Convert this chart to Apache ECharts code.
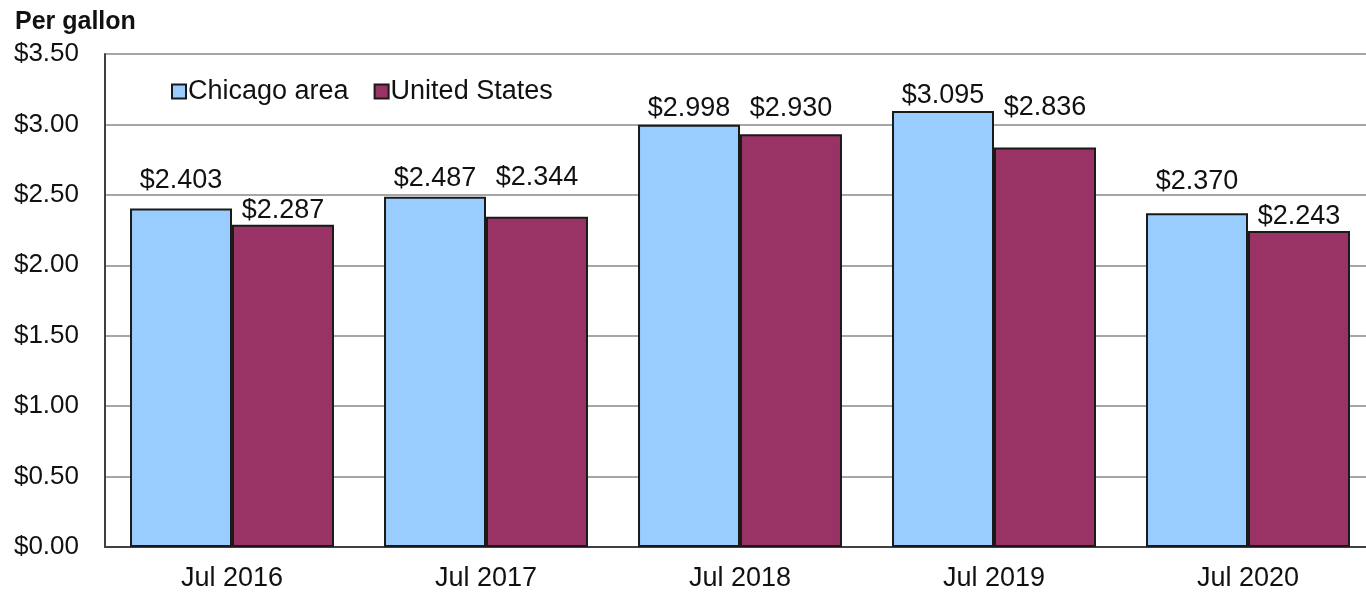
<!DOCTYPE html>
<html>
<head>
<meta charset="utf-8">
<title>Gasoline prices</title>
<script src="https://cdn.jsdelivr.net/npm/echarts@6/dist/echarts.min.js"></script>
<style>
  html, body { margin: 0; padding: 0; background: #fff; }
  #gasBar { width: 1366px; height: 592px; }
</style>
</head>
<body>
<div id="gasBar"></div>
<script>
  // data
  var categories = ['Jul 2016', 'Jul 2017', 'Jul 2018', 'Jul 2019', 'Jul 2020'];
  var seriesNames = ['Chicago area', 'United States'];
  var chicago = [2.403, 2.487, 2.998, 3.095, 2.370];
  var unitedStates = [2.287, 2.344, 2.930, 2.836, 2.243];
  var yTicks = [0, 0.5, 1, 1.5, 2, 2.5, 3, 3.5];

  var font = 'Arial, "Liberation Sans", sans-serif';

  // the original has hand placed value labels, so each one gets its own gap above the bar
  var chicagoLabelGap = [14, 5, 3, 2, 18];
  var usLabelGap = [1, 26, 12, 26, 1];

  function money(v) {
    return '$' + v.toFixed(3);
  }

  function withLabels(values, gaps) {
    return values.map(function (v, i) {
      return { value: v, label: { distance: gaps[i] } };
    });
  }

  var chart = echarts.init(document.getElementById('gasBar'));
  chart.setOption({
    animation: false,
    textStyle: { fontFamily: font },
    graphic: [
      {
        type: 'text',
        left: 15,
        top: 10,
        style: {
          text: 'Per gallon',
          font: 'bold 25px ' + font,
          fill: '#111'
        }
      }
    ],
    legend: {
      left: 166,
      top: 73,
      icon: 'rect',
      itemWidth: 14,
      itemHeight: 14,
      itemGap: 25,
      textStyle: {
        color: '#111',
        fontSize: 27,
        padding: [0, 0, 0, -3]
      },
      data: seriesNames
    },
    grid: {
      left: 105,
      top: 54,
      width: 1270,
      bottom: 45,
      containLabel: false,
      outerBoundsMode: 'none'
    },
    xAxis: {
      type: 'category',
      data: categories,
      axisTick: { show: false },
      axisLine: { lineStyle: { color: '#404040', width: 2 } },
      axisLabel: {
        color: '#111',
        fontSize: 27,
        margin: 18
      }
    },
    yAxis: {
      type: 'value',
      min: yTicks[0],
      max: yTicks[yTicks.length - 1],
      interval: 0.5,
      axisLine: { show: true, lineStyle: { color: '#404040', width: 2 } },
      axisTick: { show: false },
      splitLine: { lineStyle: { color: '#a6a6a6', width: 2 } },
      axisLabel: {
        color: '#111',
        fontSize: 26,
        margin: 26,
        formatter: function (v) { return '$' + v.toFixed(2); }
      }
    },
    series: [
      {
        name: seriesNames[0],
        type: 'bar',
        barGap: '0%',
        barCategoryGap: '19.7%',
        itemStyle: { color: '#99ccff', borderColor: '#1a1a1a', borderWidth: 2 },
        label: {
          show: true,
          position: 'top',
          color: '#111',
          fontSize: 27,
          formatter: function (p) { return money(p.value); }
        },
        data: withLabels(chicago, chicagoLabelGap)
      },
      {
        name: seriesNames[1],
        type: 'bar',
        barGap: '0%',
        barCategoryGap: '19.7%',
        itemStyle: { color: '#993366', borderColor: '#1a1a1a', borderWidth: 2 },
        label: {
          show: true,
          position: 'top',
          color: '#111',
          fontSize: 27,
          formatter: function (p) { return money(p.value); }
        },
        data: withLabels(unitedStates, usLabelGap)
      }
    ]
  });
</script>
</body>
</html>
